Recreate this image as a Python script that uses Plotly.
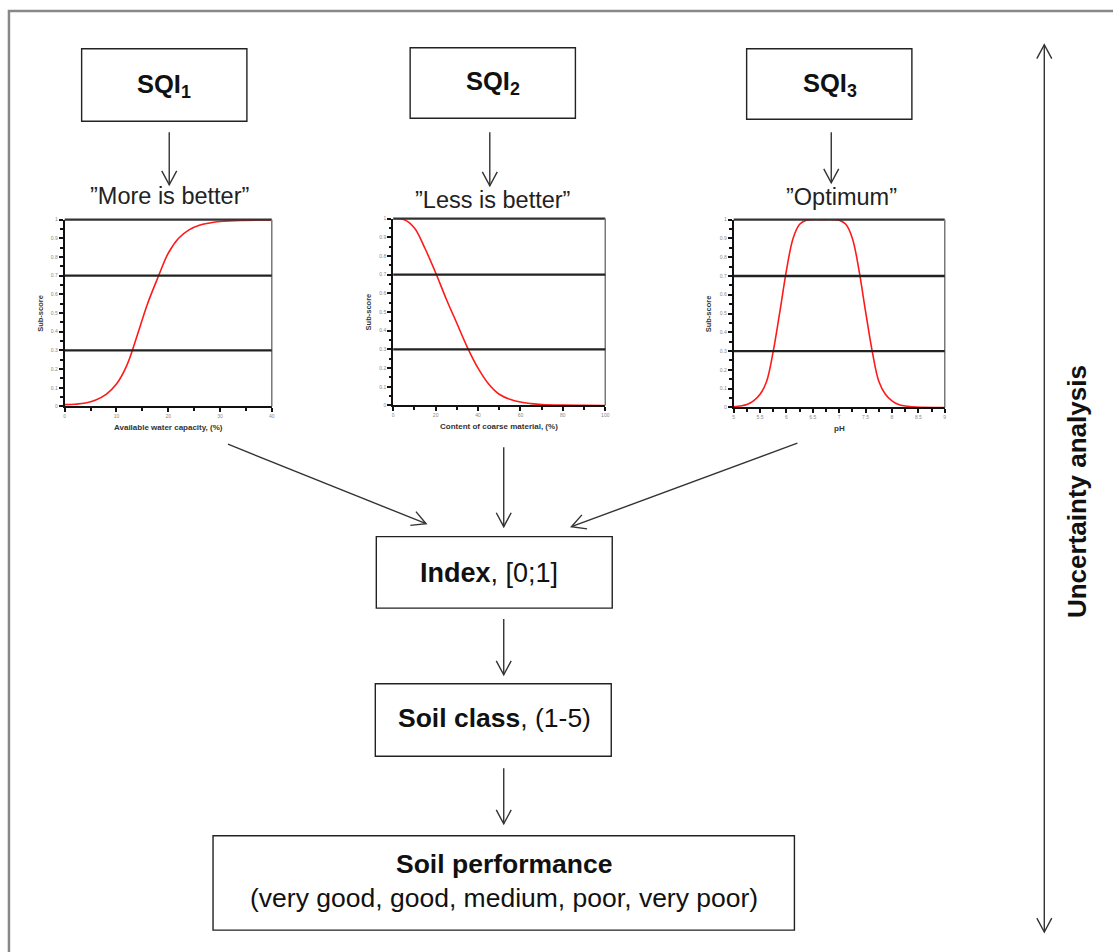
import math
import plotly.graph_objects as go

W, H = 1113, 952
FONT = "Liberation Sans, Arial, sans-serif"

# ---------------- data ----------------
awc_x = [0, 2, 4, 6, 8, 10, 12, 14, 16, 18, 20, 22, 24, 26, 28, 30, 34, 40]
awc_y = [0.01, 0.012, 0.018, 0.035, 0.065, 0.12, 0.22, 0.38, 0.55, 0.69, 0.82, 0.90,
         0.945, 0.97, 0.982, 0.99, 0.996, 0.998]

coarse_x = [0, 5, 10, 15, 20, 25, 30, 35, 40, 45, 50, 55, 60, 65, 70, 80, 90, 100]
coarse_y = [1.0, 0.995, 0.95, 0.84, 0.71, 0.57, 0.44, 0.31, 0.20, 0.115, 0.06, 0.033,
            0.018, 0.01, 0.005, 0.002, 0.001, 0.0]

ph_x = [5.0, 5.25, 5.375, 5.5, 5.625, 5.75, 5.875, 6.0, 6.125, 6.25, 6.375, 6.5, 6.6875,
        6.875, 7.0, 7.125, 7.25, 7.375, 7.5, 7.625, 7.75, 7.875, 8.0, 8.125, 8.375, 9.0]
ph_y = [0.003, 0.015, 0.035, 0.07, 0.14, 0.30, 0.51, 0.73, 0.90, 0.975, 0.997, 1.0, 1.0,
        1.0, 0.997, 0.975, 0.90, 0.73, 0.51, 0.30, 0.14, 0.07, 0.035, 0.015, 0.003, 0.0]

thresholds = [0.3, 0.7]

sqi_labels = ["SQI<sub>1</sub>", "SQI<sub>2</sub>", "SQI<sub>3</sub>"]
rule_labels = ["\u201dMore is better\u201d", "\u201dLess is better\u201d", "\u201dOptimum\u201d"]
x_titles = ["Available water capacity, (%)", "Content of coarse material, (%)", "pH"]
x_ranges = [[0, 40], [0, 100], [5, 9]]
x_dticks = [10, 20, 0.5]
x_minor = [5, 10, 0.25]
curves = [(awc_x, awc_y), (coarse_x, coarse_y), (ph_x, ph_y)]


# ---------------- helpers ----------------
def PX(x):
    return x / W


def PY(y):
    return 1 - y / H


# plot areas in pixels: (left, right, top, bottom)
areas = [(64, 272, 218, 406), (394, 607, 217, 405), (736, 948, 218, 407)]

fig = go.Figure()
shapes = []
annotations = []

for i, ((cx, cy), (l, r, t, b)) in enumerate(zip(curves, areas)):
    n = "" if i == 0 else str(i + 1)
    fig.add_trace(go.Scatter(x=cx, y=cy, mode="lines",
                             line=dict(color="#ff1a1a", width=1.6, shape="spline", smoothing=1.0),
                             xaxis="x" + n, yaxis="y" + n, showlegend=False, hoverinfo="skip"))
    common = dict(showline=True, linecolor="#111", linewidth=2, ticks="outside", ticklen=4,
                  tickwidth=1.5, tickcolor="#111", showgrid=False, zeroline=False,
                  tickfont=dict(size=5, color="#888", family=FONT), fixedrange=True)
    fig.update_layout(**{
        "xaxis" + n: dict(domain=[PX(l), PX(r)], range=x_ranges[i], anchor="y" + n,
                          dtick=x_dticks[i], tick0=x_ranges[i][0],
                          minor=dict(ticks="outside", ticklen=2.5, dtick=x_minor[i],
                                     tick0=x_ranges[i][0], tickcolor="#111", showgrid=False),
                          **common),
        "yaxis" + n: dict(domain=[PY(b), PY(t)], range=[0, 1], anchor="x" + n,
                          dtick=0.1, tick0=0,
                          minor=dict(ticks="outside", ticklen=2.5, dtick=0.05, tick0=0,
                                     tickcolor="#111", showgrid=False),
                          **common),
    })
    xr = "x" + n
    yr = "y" + n
    # top and right frame
    shapes.append(dict(type="line", xref=xr + " domain", yref=yr + " domain", x0=0, x1=1, y0=1, y1=1,
                       line=dict(color="#333", width=2.2)))
    shapes.append(dict(type="line", xref=xr + " domain", yref=yr + " domain", x0=1, x1=1, y0=0, y1=1,
                       line=dict(color="#777", width=1.5)))
    for th in thresholds:
        shapes.append(dict(type="line", xref=xr + " domain", yref=yr, x0=0, x1=1, y0=th, y1=th,
                           line=dict(color="#222", width=2.4)))
    # axis titles
    annotations.append(dict(x=PX((l + r) / 2), y=PY(b + 21), xref="paper", yref="paper",
                            xanchor="center", yanchor="middle",
                            text="<b>" + x_titles[i] + "</b>", showarrow=False,
                            font=dict(size=8, color="#333", family=FONT)))
    annotations.append(dict(x=PX(l - 25), y=PY((t + b) / 2), xref="paper", yref="paper",
                            xanchor="center", yanchor="middle",
                            text="<b>Sub-score</b>", textangle=-90, showarrow=False,
                            font=dict(size=7.5, color="#333", family=FONT)))


def box(x0, y0, x1, y1):
    shapes.append(dict(type="rect", xref="paper", yref="paper", x0=PX(x0), x1=PX(x1),
                       y0=PY(y1), y1=PY(y0), line=dict(color="#222", width=1.4)))


def text(x, y, s, size=24, color="#111", angle=0):
    annotations.append(dict(x=PX(x), y=PY(y), xref="paper", yref="paper", text=s,
                            showarrow=False, textangle=angle, xanchor="center", yanchor="middle",
                            font=dict(size=size, color=color, family=FONT)))


def chevron(xt, yt, ux, uy, head=14, half=7.5):
    bx, by = xt - ux * head, yt - uy * head
    pxv, pyv = -uy, ux
    p1 = (bx + pxv * half, by + pyv * half)
    p2 = (bx - pxv * half, by - pyv * half)
    path = "M %f,%f L %f,%f L %f,%f" % (PX(p1[0]), PY(p1[1]), PX(xt), PY(yt), PX(p2[0]), PY(p2[1]))
    shapes.append(dict(type="path", xref="paper", yref="paper", path=path,
                       line=dict(color="#333", width=1.4)))


def arrow(x0, y0, x1, y1, both=False):
    shapes.append(dict(type="line", xref="paper", yref="paper", x0=PX(x0), y0=PY(y0),
                       x1=PX(x1), y1=PY(y1), line=dict(color="#333", width=1.4)))
    L = math.hypot(x1 - x0, y1 - y0)
    ux, uy = (x1 - x0) / L, (y1 - y0) / L
    chevron(x1, y1, ux, uy)
    if both:
        chevron(x0, y0, -ux, -uy)


# outer border
shapes.append(dict(type="path", xref="paper", yref="paper",
                   path="M %f,%f L %f,%f L %f,%f" % (PX(8), PY(H + 5), PX(8), PY(8), PX(W + 5), PY(8)),
                   line=dict(color="#888", width=2.5)))

# SQI boxes
sqi_boxes = [(81, 46, 247, 119), (411, 45, 577, 116), (749, 46, 915, 117)]
sqi_centers = [(164, 84), (494, 81), (833, 83)]
for (bx0, by0, bx1, by1), (tx, ty), lab in zip(sqi_boxes, sqi_centers, sqi_labels):
    box(bx0, by0, bx1, by1)
    text(tx, ty, "<b>" + lab + "</b>", size=25.5)

# arrows from SQI boxes
arrow(169, 130, 169, 183)
arrow(491, 130, 491, 184)
arrow(834, 130, 834, 181)

rule_pos = [(169, 194), (494, 198), (844, 195)]
for (tx, ty), lab in zip(rule_pos, rule_labels):
    text(tx, ty, lab, size=23.5, color="#222")

# arrows to index
arrow(228, 444, 427, 524)
arrow(505, 447, 505, 527)
arrow(800, 443, 573, 527)

box(377, 537, 614, 609)
text(490, 574, "<b>Index</b>, [0;1]", size=27)
arrow(505, 620, 505, 676)
box(376, 685, 613, 758)
text(496, 720, "<b>Soil class</b>, (1-5)", size=26.5)
arrow(505, 770, 505, 826)
box(213, 838, 797, 933)
text(505, 866, "<b>Soil performance</b>", size=26.5)
text(505, 901, "(very good, good, medium, poor, very poor)", size=26.5)

# uncertainty
arrow(1048, 935, 1048, 42, both=True)
text(1081, 492, "<b>Uncertainty analysis</b>", size=26, angle=-90)

fig.update_layout(width=W, height=H, margin=dict(l=0, r=0, t=0, b=0),
                  paper_bgcolor="white", plot_bgcolor="white",
                  shapes=shapes, annotations=annotations, showlegend=False,
                  font=dict(family=FONT))

fig.write_html("out.html", config={"displayModeBar": False},
               post_script="document.body.style.margin='0';")
